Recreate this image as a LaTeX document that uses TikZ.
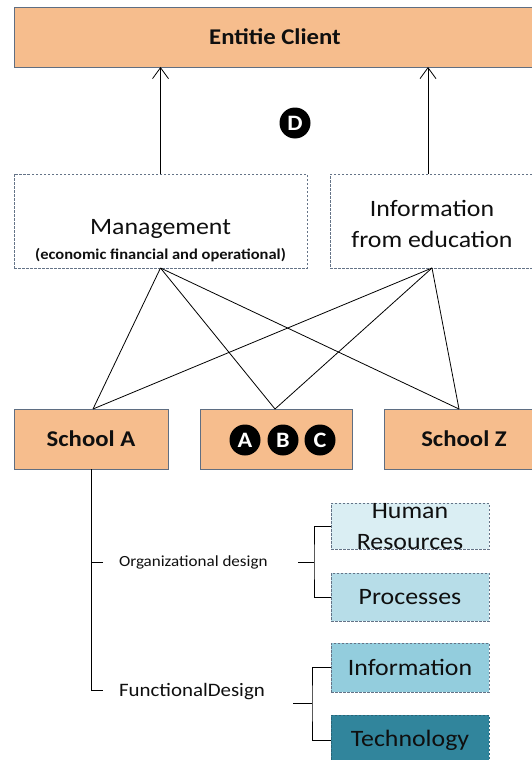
\documentclass[tikz,border=0pt]{standalone}
\usepackage{fontspec}
\setmainfont{Carlito}[FakeStretch=1.1]
\usetikzlibrary{arrows.meta}
\definecolor{orangefill}{RGB}{246,189,141}
\definecolor{orangeline}{RGB}{95,110,130}
\definecolor{dashline}{RGB}{100,115,135}
\definecolor{hrfill}{RGB}{218,238,243}
\definecolor{procfill}{RGB}{183,221,232}
\definecolor{infofill}{RGB}{147,205,221}
\definecolor{techfill}{RGB}{49,133,156}
\definecolor{techline}{RGB}{40,100,120}
\definecolor{txt}{RGB}{15,15,15}
\begin{document}
\begin{tikzpicture}[x=1pt,y=-1pt,
  every node/.style={inner sep=0pt,outer sep=0pt,text=txt},
  orangebox/.style={draw=orangeline,fill=orangefill,line width=0.8pt},
  dashbox/.style={draw=dashline,line width=0.7pt,dash pattern=on 2.5pt off 1.5pt},
  bigtext/.style={font=\fontsize{23.5}{31}\selectfont},
  boldtext/.style={font=\fontsize{22.5}{27}\selectfont\bfseries},
  circ/.style={circle,fill=black,minimum size=31pt,text=white,font=\fontsize{22}{26}\selectfont\bfseries},
  conn/.style={draw=black,line width=0.8pt},
  arr/.style={conn,-{Straight Barb[length=11pt,width=16pt,line width=0.8pt]}}
]
\useasboundingbox (0,0) rectangle (532,760);

% top box
\node[orangebox,minimum width=522pt,minimum height=60pt,boldtext] (client) at (275,37) {Entitie Client};

% middle boxes
\node[dashbox,minimum width=293pt,minimum height=94pt] (mgmt) at (160.5,221) {};
\node[bigtext] (mgmtt) at (160.5,229) {Management};
\node[font=\fontsize{15}{18}\selectfont\bfseries] (mgmts) at (160.5,255) {(economic financial and operational)};
\node[dashbox,minimum width=204pt,minimum height=94pt] (info) at (432,221) {};
\node[bigtext,align=center] (infot) at (432,224) {Information\\from education};

\node[circ] (d) at (295,123) {D};

\draw[arr] (mgmt.north) -- (mgmt.north |- client.south);
\draw[arr] ([xshift=-4pt]info.north) -- ([xshift=-4pt]info.north |- client.south);

% schools
\node[orangebox,minimum width=154pt,minimum height=60pt,boldtext] (scha) at (91,439) {School A};
\node[orangebox,minimum width=152pt,minimum height=60pt] (abc) at (276,439) {};
\node[orangebox,minimum width=160pt,minimum height=60pt,boldtext] (schz) at (464,439) {School Z};
\node[circ] (ca) at (245,440) {A};
\node[circ] (cb) at (283,440) {B};
\node[circ] (cc) at (320,440) {C};

\draw[conn] (mgmt.south) -- ([xshift=2pt]scha.north);
\draw[conn] (mgmt.south) -- ([xshift=-1pt]abc.north);
\draw[conn] (mgmt.south) -- ([xshift=-5pt]schz.north);
\draw[conn] (info.south) -- ([xshift=2pt]scha.north);
\draw[conn] (info.south) -- ([xshift=-1pt]abc.north);
\draw[conn] (info.south) -- ([xshift=-5pt]schz.north);

% tree
\node[anchor=west,font=\fontsize{15.5}{18}\selectfont] (org) at (119,562) {Organizational design};
\node[anchor=west,font=\fontsize{19}{23}\selectfont] (func) at (119,692) {FunctionalDesign};
\coordinate (orgtick) at (103,562);
\coordinate (funccorner) at (91,690);
\coordinate (functick) at (103,690);
\draw[conn] (scha.south) -- (funccorner) -- (functick);
\draw[conn] (orgtick) -- (orgtick -| scha.south);

\node[dashbox,fill=hrfill,minimum width=158pt,minimum height=46pt] (hr) at (410,526) {};
\node[bigtext,align=center] (hrt) at (410,527) {Human\\Resources};
\node[dashbox,fill=procfill,minimum width=158pt,minimum height=48pt,bigtext] (proc) at (410,597) {Processes};
\node[dashbox,fill=infofill,minimum width=158pt,minimum height=49pt,bigtext] (infob) at (410,667.5) {Information};
\node[draw=techline,line width=0.7pt,dash pattern=on 2.5pt off 1.5pt,fill=techfill,minimum width=158pt,minimum height=50pt,bigtext] (tech) at (410,740) {Technology};

\coordinate (orgbr) at (314,562);
\coordinate (orgst) at (298,562);
\draw[conn] (orgst) -- (orgbr);
\draw[conn] (hr.west) -| (orgbr) |- (proc.west);
\coordinate (funcbr) at (312,703);
\coordinate (funcst) at (293,703);
\draw[conn] (funcst) -- (funcbr);
\draw[conn] (infob.west) -| (funcbr) |- (tech.west);
\end{tikzpicture}
\end{document}
